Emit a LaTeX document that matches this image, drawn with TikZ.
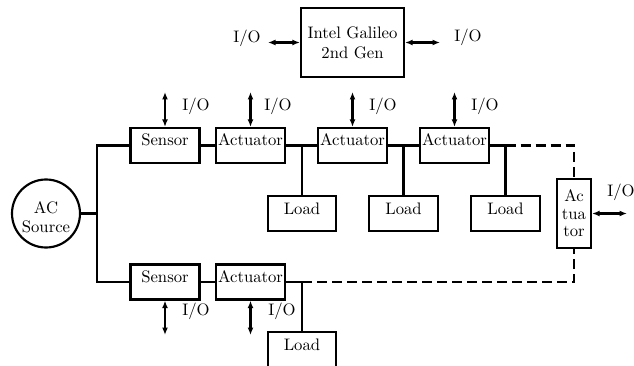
\documentclass[tikz,border=0pt]{standalone}
\usetikzlibrary{arrows.meta}
\begin{document}
\begin{tikzpicture}[x=0.6pt,y=-0.6pt,line width=1.3pt,
  box/.style={draw,rectangle,inner sep=1pt,minimum width=41.4pt,minimum height=21pt,text height=7pt,text depth=6.5pt},
  loadbox/.style={box,minimum width=41pt,text depth=6pt},
  lbl/.style={inner sep=0pt},
  io/.style={{Latex[length=4.5pt,width=3.6pt]}-{Latex[length=4.5pt,width=3.6pt]}},
  dwire/.style={dash pattern=on 6pt off 3pt}]
\useasboundingbox (0,0) rectangle (634,366);
% main nodes
\node[draw,rectangle,minimum width=61.8pt,minimum height=41.4pt,align=center,inner sep=1pt] (intel) at (352.5,42.5) {Intel Galileo\\2nd Gen};
\node[draw,circle,minimum size=40.8pt,inner sep=0pt,align=center,font=\fontsize{10}{11.4}\selectfont,text height=23pt] (src) at (46,213.5) {AC\\Source};
\node[box] (s1) at (165,145.5) {Sensor};
\node[box] (a1) at (250.5,145.5) {Actuator};
\node[box] (a2) at (352.5,145.5) {Actuator};
\node[box] (a3) at (454.5,145.5) {Actuator};
\node[box] (s2) at (165,282) {Sensor};
\node[box] (a4) at (250.5,282) {Actuator};
\node[loadbox] (l1) at (302,213.5) {Load};
\node[loadbox] (l2) at (403.5,213.5) {Load};
\node[loadbox] (l3) at (505.5,213.5) {Load};
\node[loadbox] (l4) at (302,349.5) {Load};
\node[draw,rectangle,minimum width=20.4pt,minimum height=41.4pt,inner sep=0pt,align=center,font=\fontsize{10}{10.5}\selectfont] (ac) at (574,213.5) {Ac\\tua\\tor};
% labels
\node[lbl] (tIL) at (247,38) {I/O};
\node[lbl] (tIR) at (468,37) {I/O};
\node[lbl] (t1) at (196,106) {I/O};
\node[lbl] (t2) at (278,106) {I/O};
\node[lbl] (t3) at (383,106) {I/O};
\node[lbl] (t4) at (485,106) {I/O};
\node[lbl] (t5) at (196,311) {I/O};
\node[lbl] (t6) at (282,311) {I/O};
\node[lbl] (t7) at (621,192) {I/O};
% free ends
\coordinate (eIL) at (268,42.5);
\coordinate (eIR) at (440,42.5);
\coordinate (e1) at (165,92);
\coordinate (e2) at (250.5,92);
\coordinate (e3) at (352.5,92);
\coordinate (e4) at (454.5,92);
\coordinate (e5) at (165,335);
\coordinate (e6) at (250.5,335);
\coordinate (e7) at (627,213.5);
\coordinate (bus) at (97,213.5);
% I/O arrows
\draw[io] (eIL) -- (intel.west);
\draw[io] (intel.east) -- (eIR);
\draw[io] (e1) -- (s1.north);
\draw[io] (e2) -- (a1.north);
\draw[io] (e3) -- (a2.north);
\draw[io] (e4) -- (a3.north);
\draw[io] (s2.south) -- (e5);
\draw[io] (a4.south) -- (e6);
\draw[io] (ac.east) -- (e7);
% wiring
\draw (src.east) -- (bus);
\draw (s1.west) -| (bus) |- (s2.west);
\draw (s1.east) -- (a1.west);
\draw (a1.east) -- (a2.west);
\draw (a2.east) -- (a3.west);
\draw (a3.east) -- (l3.north |- a3.east);
\draw (l1.north) -- (l1.north |- a1.east);
\draw (l2.north) -- (l2.north |- a2.east);
\draw (l3.north) -- (l3.north |- a3.east);
\draw[dwire] (l3.north |- a3.east) -| (ac.north);
\draw (s2.east) -- (a4.west);
\draw (a4.east) -- (l4.north |- a4.east);
\draw (l4.north) -- (l4.north |- a4.east);
\draw[dwire] (l4.north |- a4.east) -| (ac.south);
\end{tikzpicture}
\end{document}
